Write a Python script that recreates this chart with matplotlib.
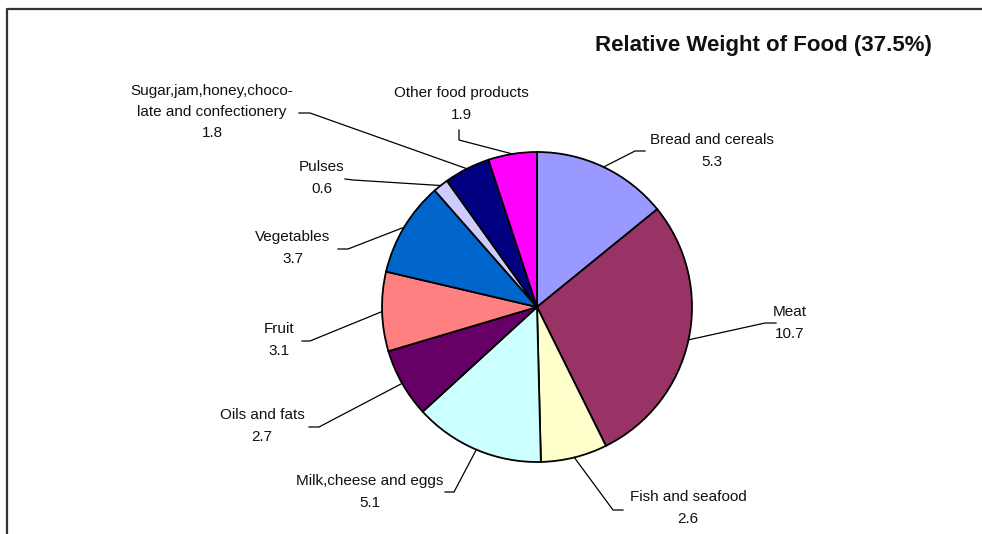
import numpy as np
import matplotlib.pyplot as plt

plt.rcParams['font.family'] = ['Liberation Sans', 'DejaVu Sans']

# Data (clockwise from 12 o'clock)
categories = ['Bread and cereals', 'Meat', 'Fish and seafood', 'Milk,cheese and eggs',
              'Oils and fats', 'Fruit', 'Vegetables', 'Pulses',
              'Sugar,jam,honey,choco-\nlate and confectionery', 'Other food products']
weights = [5.3, 10.7, 2.6, 5.1, 2.7, 3.1, 3.7, 0.6, 1.8, 1.9]
colors = ['#9999FF', '#993366', '#FFFFCC', '#CCFFFF', '#660066',
          '#FF8080', '#0066CC', '#CCCCFF', '#000080', '#FF00FF']
title = 'Relative Weight of Food (37.5%)'

# label text centre, elbow of leader, end of short stub (pixel coords)
label_pos = [(712, 151), (790, 323), (688, 508), (370, 492), (262, 426),
             (279, 340), (293, 248), (322, 178), (212, 112), (461, 104)]
elbows = [(635, 151), (765, 323), (613, 510), (454, 492), (319, 427),
          (310, 341), (348, 249), (353, 180), (310, 113), (459, 140)]
stubs = [(645, 151), (776, 323), (623, 510), (445, 492), (309, 427),
         (302, 341), (338, 249), (345, 179), (299, 113), (459, 130)]

W, H = 982, 534
fig = plt.figure(figsize=(W / 100, H / 100), dpi=100)
ax = fig.add_axes([0, 0, 1, 1])

cx, cy, r = 537, 307, 155
# y axis is flipped below, so counterclock in data = clockwise on screen
wedges, _ = ax.pie(weights, colors=colors, startangle=-90, counterclock=True,
                   center=(cx, cy), radius=r, frame=True,
                   wedgeprops=dict(edgecolor='black', linewidth=1.3))

for w, lab, val, tp, el, st in zip(wedges, categories, weights, label_pos, elbows, stubs):
    mid = np.deg2rad((w.theta1 + w.theta2) / 2)
    ax0 = cx + r * np.cos(mid)
    ay0 = cy + r * np.sin(mid)
    ax.plot([ax0, el[0], st[0]], [ay0, el[1], st[1]], color='black', lw=0.9,
            solid_joinstyle='miter')
    ax.text(tp[0], tp[1], f'{lab}\n{val}', ha='center', va='center',
            fontsize=11, linespacing=1.65, color='#111111')

ax.text(932, 51, title, ha='right', va='baseline', fontsize=16,
        fontweight='bold', color='#111111')

# chart frame (right and bottom edges fall outside the picture)
ax.plot([7, 7, W], [H, 9, 9], color='#333333', lw=1.6)

ax.set_xlim(0, W)
ax.set_ylim(H, 0)
ax.set_aspect('auto')
ax.axis('off')

fig.savefig('out.png', dpi=100)
